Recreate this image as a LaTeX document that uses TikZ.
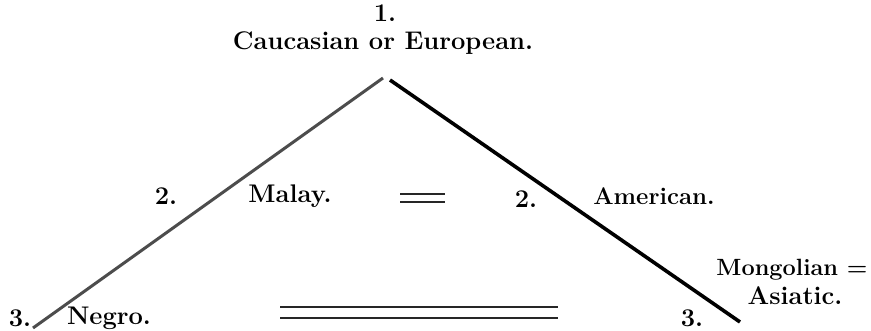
\documentclass[tikz,border=0pt]{standalone}
\begin{document}
\begin{tikzpicture}[x=1pt,y=-1pt,
  lbl/.style={inner sep=0pt,font=\fontsize{25.5}{30}\selectfont\bfseries},
  thin2/.style={line width=1.4pt,black!85}]
\useasboundingbox (0,0) rectangle (871,330);
\node[lbl] (one) at (385,13) {1.};
\node[lbl] (cauc) at (383,43) {Caucasian or European.};
\coordinate (apexL) at (383,78);
\coordinate (apexR) at (390,80);
\coordinate (endL) at (33,328);
\coordinate (endR) at (740,322);
\draw[line width=3pt,black!70] (apexL) -- (endL);
\draw[line width=3.6pt,black] (apexR) -- (endR);
\node[lbl] (twoL) at (166,196) {2.};
\node[lbl] (malay) at (290,196) {Malay.};
\coordinate (eqA) at (400,194);
\coordinate (eqB) at (445,194);
\coordinate (eqC) at (400,202);
\coordinate (eqD) at (445,202);
\draw[thin2] (eqA) -- (eqB);
\draw[thin2] (eqC) -- (eqD);
\node[lbl] (twoR) at (526,199) {2.};
\node[lbl,font=\fontsize{24}{28}\selectfont\bfseries] (amer) at (654,196) {American.};
\node[lbl,font=\fontsize{23.5}{28}\selectfont\bfseries] (mong) at (792,270) {Mongolian =};
\node[lbl] (asia) at (795,296) {Asiatic.};
\node[lbl] (threeL) at (20,318) {3.};
\node[lbl] (negro) at (109,318) {Negro.};
\coordinate (lnA) at (280,307);
\coordinate (lnB) at (558,307);
\coordinate (lnC) at (280,318);
\coordinate (lnD) at (558,318);
\draw[thin2] (lnA) -- (lnB);
\draw[thin2] (lnC) -- (lnD);
\node[lbl] (threeR) at (692,318) {3.};
\end{tikzpicture}
\end{document}
